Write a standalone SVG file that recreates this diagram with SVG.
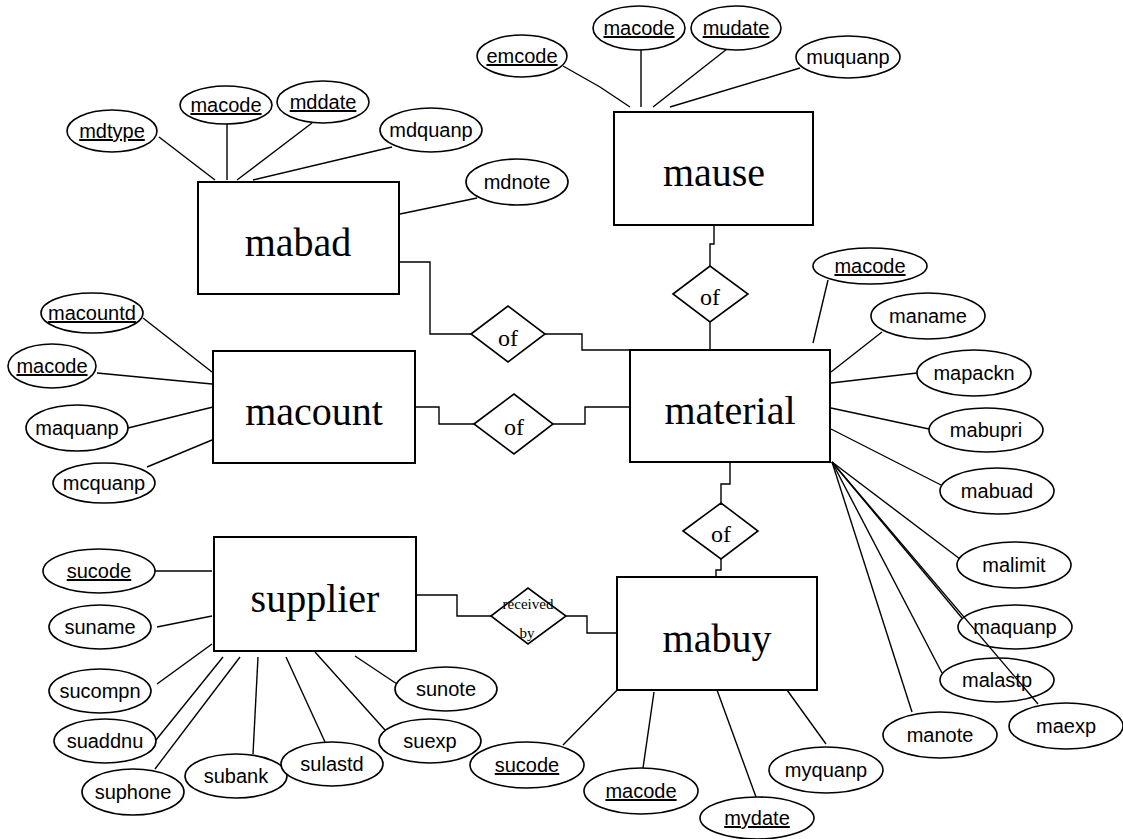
<svg xmlns="http://www.w3.org/2000/svg" width="1123" height="839" viewBox="0 0 1123 839">
<style>
.ent{fill:#fff;stroke:#000;stroke-width:2}
.et{font-family:"Liberation Serif","Times New Roman",serif;font-size:40px;text-anchor:middle;fill:#000}
.rel{fill:#fff;stroke:#000;stroke-width:1.6}
.rt{font-family:"Liberation Serif","Times New Roman",serif;font-size:24px;text-anchor:middle;fill:#000}
.rs{font-family:"Liberation Serif","Times New Roman",serif;font-size:15px;text-anchor:middle;fill:#000}
.att{fill:#fff;stroke:#000;stroke-width:1.6}
.at{font-family:"Liberation Sans",Arial,sans-serif;font-size:20px;text-anchor:middle;fill:#000}
.k{text-decoration:underline}
.cn line,.cn polyline{stroke:#000;stroke-width:1.4;fill:none}
</style>
<rect width="1123" height="839" fill="#fff"/>
<g class="cn" id="connectors">
<polyline points="563,66 600,87 630,107"/>
<line x1="641" y1="50" x2="641" y2="107"/>
<line x1="727" y1="49" x2="653" y2="107"/>
<line x1="800" y1="68" x2="670" y2="107"/>
<line x1="159" y1="137" x2="215" y2="180"/>
<line x1="227" y1="124" x2="227" y2="180"/>
<line x1="312" y1="123" x2="237" y2="180"/>
<line x1="392" y1="147" x2="253" y2="180"/>
<line x1="477" y1="198" x2="400" y2="214"/>
<line x1="143" y1="318" x2="212" y2="372"/>
<line x1="97" y1="373" x2="212" y2="384"/>
<line x1="128" y1="428" x2="213" y2="407"/>
<line x1="147" y1="467" x2="212" y2="440"/>
<line x1="828" y1="280" x2="813" y2="343"/>
<line x1="882" y1="332" x2="831" y2="372"/>
<line x1="917" y1="373" x2="831" y2="383"/>
<line x1="929" y1="429" x2="831" y2="408"/>
<line x1="941" y1="485" x2="831" y2="429"/>
<line x1="832" y1="462" x2="960" y2="559"/>
<line x1="832" y1="462" x2="962" y2="618"/>
<line x1="832" y1="462" x2="1038" y2="704"/>
<line x1="832" y1="462" x2="942" y2="673"/>
<line x1="832" y1="462" x2="912" y2="712"/>
<line x1="155" y1="571" x2="212" y2="571"/>
<line x1="157" y1="627" x2="212" y2="616"/>
<line x1="157" y1="684" x2="212" y2="644"/>
<line x1="156" y1="740" x2="223" y2="657"/>
<line x1="155" y1="769" x2="240" y2="657"/>
<line x1="253" y1="754" x2="258" y2="657"/>
<line x1="325" y1="742" x2="286" y2="657"/>
<line x1="385" y1="730" x2="315" y2="652"/>
<line x1="397" y1="684" x2="355" y2="656"/>
<line x1="563" y1="745" x2="626" y2="681"/>
<line x1="654" y1="692" x2="643" y2="768"/>
<line x1="717" y1="690" x2="756" y2="797"/>
<line x1="787" y1="690" x2="826" y2="744"/>
<polyline points="399,262 430,262 430,334 471,334"/>
<polyline points="545,334 582,334 582,350 630,350"/>
<polyline points="415,407 439,407 439,424 474,424"/>
<polyline points="553,424 585,424 585,407 630,407"/>
<polyline points="714,225 714,244 710,244 710,266"/>
<line x1="710" y1="322" x2="710" y2="350"/>
<polyline points="730,463 730,484 721,484 721,503"/>
<polyline points="721,559 721,570 716,570 716,577"/>
<polyline points="416,595 457,595 457,616 491,616"/>
<polyline points="566,616 587,616 587,633 617,633"/>
</g>
<g id="mause"><rect class="ent" x="614" y="112" width="199" height="113"/><text class="et" x="714" y="186">mause</text></g>
<g id="mabad"><rect class="ent" x="198" y="182" width="201" height="112"/><text class="et" x="298" y="256">mabad</text></g>
<g id="macount"><rect class="ent" x="213" y="351" width="202" height="112"/><text class="et" x="314" y="425">macount</text></g>
<g id="material"><rect class="ent" x="630" y="350" width="200" height="112"/><text class="et" x="730" y="424">material</text></g>
<g id="supplier"><rect class="ent" x="214" y="537" width="202" height="114"/><text class="et" x="315" y="612">supplier</text></g>
<g id="mabuy"><rect class="ent" x="617" y="577" width="200" height="113"/><text class="et" x="717" y="652">mabuy</text></g>
<g id="rel-mabad"><polygon class="rel" points="471,334 508,306 545,334 508,362"/><text class="rt" x="508" y="346">of</text></g>
<g id="rel-macount"><polygon class="rel" points="474,424 514,394 553,424 514,454"/><text class="rt" x="514" y="435">of</text></g>
<g id="rel-mause"><polygon class="rel" points="673,294 710,266 748,294 710,322"/><text class="rt" x="710" y="305">of</text></g>
<g id="rel-mabuy"><polygon class="rel" points="683,531 721,503 758,531 721,559"/><text class="rt" x="721" y="542">of</text></g>
<g id="rel-received"><polygon class="rel" points="491,616 528,588 566,616 528,644"/><text class="rs" x="528" y="609">received</text><text class="rs" x="527" y="638">by</text></g>
<g id="a-emcode"><ellipse class="att" cx="522" cy="56" rx="45" ry="21"/><text class="at k" x="522" y="63">emcode</text></g>
<g id="a-mu-macode"><ellipse class="att" cx="639" cy="28" rx="46" ry="22"/><text class="at k" x="639" y="35">macode</text></g>
<g id="a-mudate"><ellipse class="att" cx="736" cy="28" rx="45" ry="22"/><text class="at k" x="736" y="35">mudate</text></g>
<g id="a-muquanp"><ellipse class="att" cx="848" cy="57" rx="52" ry="21"/><text class="at" x="848" y="64">muquanp</text></g>
<g id="a-mdtype"><ellipse class="att" cx="112" cy="131" rx="45" ry="21"/><text class="at k" x="112" y="138">mdtype</text></g>
<g id="a-md-macode"><ellipse class="att" cx="226" cy="105" rx="46" ry="19"/><text class="at k" x="226" y="112">macode</text></g>
<g id="a-mddate"><ellipse class="att" cx="323" cy="102" rx="46" ry="21"/><text class="at k" x="323" y="109">mddate</text></g>
<g id="a-mdquanp"><ellipse class="att" cx="431" cy="130" rx="51" ry="22"/><text class="at" x="431" y="137">mdquanp</text></g>
<g id="a-mdnote"><ellipse class="att" cx="517" cy="182" rx="51" ry="23"/><text class="at" x="517" y="189">mdnote</text></g>
<g id="a-macountd"><ellipse class="att" cx="92" cy="313" rx="51" ry="20"/><text class="at k" x="92" y="320">macountd</text></g>
<g id="a-mc-macode"><ellipse class="att" cx="52" cy="366" rx="44" ry="22"/><text class="at k" x="52" y="373">macode</text></g>
<g id="a-mc-maquanp"><ellipse class="att" cx="77" cy="428" rx="51" ry="23"/><text class="at" x="77" y="435">maquanp</text></g>
<g id="a-mcquanp"><ellipse class="att" cx="104" cy="483" rx="51" ry="20"/><text class="at" x="104" y="490">mcquanp</text></g>
<g id="a-ma-macode"><ellipse class="att" cx="870" cy="266" rx="57" ry="18"/><text class="at k" x="870" y="273">macode</text></g>
<g id="a-maname"><ellipse class="att" cx="928" cy="316" rx="57" ry="23"/><text class="at" x="928" y="323">maname</text></g>
<g id="a-mapackn"><ellipse class="att" cx="974" cy="373" rx="57" ry="23"/><text class="at" x="974" y="380">mapackn</text></g>
<g id="a-mabupri"><ellipse class="att" cx="986" cy="430" rx="57" ry="22"/><text class="at" x="986" y="437">mabupri</text></g>
<g id="a-mabuad"><ellipse class="att" cx="997" cy="491" rx="57" ry="23"/><text class="at" x="997" y="498">mabuad</text></g>
<g id="a-malimit"><ellipse class="att" cx="1014" cy="565" rx="57" ry="23"/><text class="at" x="1014" y="572">malimit</text></g>
<g id="a-maquanp"><ellipse class="att" cx="1015" cy="627" rx="57" ry="22" fill="none" style="fill:none"/><text class="at" x="1015" y="634">maquanp</text></g>
<g id="a-malastp"><ellipse class="att" cx="997" cy="680" rx="57" ry="22" style="fill:none"/><text class="at" x="997" y="687">malastp</text></g>
<g id="a-maexp"><ellipse class="att" cx="1066" cy="726" rx="57" ry="23"/><text class="at" x="1066" y="733">maexp</text></g>
<g id="a-manote"><ellipse class="att" cx="940" cy="735" rx="57" ry="23"/><text class="at" x="940" y="742">manote</text></g>
<g id="a-su-sucode"><ellipse class="att" cx="99" cy="571" rx="56" ry="22"/><text class="at k" x="99" y="578">sucode</text></g>
<g id="a-suname"><ellipse class="att" cx="100" cy="627" rx="51" ry="22"/><text class="at" x="100" y="634">suname</text></g>
<g id="a-sucompn"><ellipse class="att" cx="100" cy="691" rx="51" ry="22"/><text class="at" x="100" y="698">sucompn</text></g>
<g id="a-suaddnu"><ellipse class="att" cx="105" cy="741" rx="51" ry="22"/><text class="at" x="105" y="748">suaddnu</text></g>
<g id="a-suphone"><ellipse class="att" cx="133" cy="792" rx="51" ry="23"/><text class="at" x="133" y="799">suphone</text></g>
<g id="a-subank"><ellipse class="att" cx="236" cy="776" rx="51" ry="22"/><text class="at" x="236" y="783">subank</text></g>
<g id="a-sulastd"><ellipse class="att" cx="332" cy="764" rx="51" ry="22"/><text class="at" x="332" y="771">sulastd</text></g>
<g id="a-suexp"><ellipse class="att" cx="430" cy="741" rx="51" ry="22"/><text class="at" x="430" y="748">suexp</text></g>
<g id="a-sunote"><ellipse class="att" cx="446" cy="689" rx="51" ry="22"/><text class="at" x="446" y="696">sunote</text></g>
<g id="a-mb-sucode"><ellipse class="att" cx="527" cy="765" rx="57" ry="23"/><text class="at k" x="527" y="772">sucode</text></g>
<g id="a-mb-macode"><ellipse class="att" cx="641" cy="791" rx="57" ry="23"/><text class="at k" x="641" y="798">macode</text></g>
<g id="a-mydate"><ellipse class="att" cx="757" cy="818" rx="57" ry="21"/><text class="at k" x="757" y="825">mydate</text></g>
<g id="a-myquanp"><ellipse class="att" cx="826" cy="770" rx="57" ry="23"/><text class="at" x="826" y="777">myquanp</text></g>
</svg>
